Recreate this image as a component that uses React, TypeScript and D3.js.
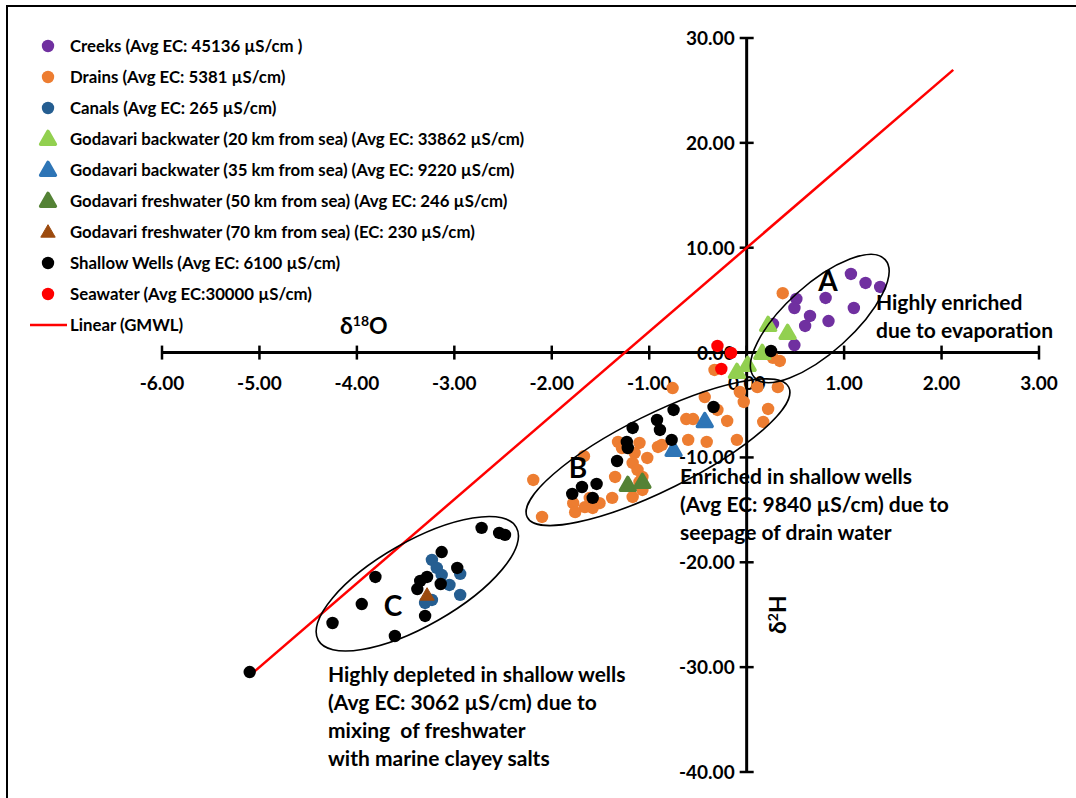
import React from "react";
import { scaleLinear, symbol, symbolTriangle, range } from "d3";

// δ18O, δ2H pairs
const creeks = [
  [1.07, 7.5], [1.22, 6.64], [1.37, 6.26], [0.81, 5.21], [0.51, 5.11], [0.49, 4.25],
  [1.1, 4.25], [0.65, 3.49], [0.6, 2.54], [0.84, 3.01], [0.49, 0.72], [0.27, 2.73],
];
const drains = [
  [-2.19, -12.15], [-2.1, -15.68], [-1.67, -9.88], [-1.78, -14.36], [-1.66, -14.74],
  [-1.76, -15.22], [-1.61, -13.86], [-1.51, -14.36], [-1.38, -13.86], [-1.35, -11.86],
  [-1.32, -8.52], [-1.28, -9.1], [-1.15, -9.57], [-1.1, -8.62], [-1.02, -10.05],
  [-1.17, -10.53], [-1.12, -11.19], [-1.07, -11.86], [-1.17, -13.77], [-1.07, -13.1],
  [-0.91, -9.0], [-0.62, -6.34], [-0.55, -6.34], [-0.6, -8.33], [-0.41, -8.52],
  [-0.43, -4.24], [-0.3, -5.47], [-0.2, -6.52], [-0.1, -8.33], [-0.07, -3.76],
  [-0.03, -4.71], [0.11, -3.3], [0.22, -5.38], [0.17, -6.62], [0.32, -3.3],
  [-0.76, -3.38], [-0.87, -8.81], [-1.58, -14.82], [-1.1, -12.34], [-0.33, -1.66],
  [0.27, -0.51], [0.34, -0.8], [0.37, 5.66],
];
const canals = [
  [-3.23, -19.78], [-3.18, -20.54], [-3.13, -21.21], [-2.94, -21.11], [-3.05, -22.16],
  [-2.94, -23.11], [-3.3, -23.88], [-3.23, -23.59],
];
const backwater20 = [[0.22, 2.63], [0.42, 1.87], [0.16, -0.04], [0.01, -1.18], [-0.1, -1.85]];
const backwater35 = [[-0.43, -6.54], [-0.75, -9.29]];
const fresh50 = [[-1.22, -12.63], [-1.07, -12.34]];
const fresh70 = [[-3.28, -23.12]];
const wells = [
  [-0.34, -5.19], [-0.75, -5.47], [-0.92, -6.43], [-0.89, -7.38], [-1.17, -7.19],
  [-0.77, -8.33], [-1.23, -8.52], [-1.22, -9.1], [-1.33, -10.34], [-1.54, -12.53],
  [-1.69, -12.82], [-1.79, -13.48], [-1.58, -13.86], [0.25, 0.15],
  [-2.72, -16.72], [-2.54, -17.2], [-2.48, -17.39], [-3.13, -19.02], [-2.97, -20.54],
  [-3.81, -21.4], [-3.28, -21.4], [-3.35, -21.78], [-3.38, -22.55], [-3.14, -22.07],
  [-3.95, -23.98], [-3.3, -25.12], [-4.25, -25.79], [-3.61, -27.03], [-5.1, -30.47],
];
const seawater = [[-0.3, 0.63], [-0.16, -0.04], [-0.26, -1.56]];

const gmwlRange = [-5.08, 2.12];
const xTicks = range(-6, 3.01, 1);
const yTicks = range(-40, 30.01, 10);

const series = [
  { name: "Creeks (Avg EC: 45136 µS/cm )", data: creeks, color: "#7030A0", shape: "circle" },
  { name: "Drains (Avg EC: 5381 µS/cm)", data: drains, color: "#ED7D31", shape: "circle" },
  { name: "Canals (Avg EC: 265 µS/cm)", data: canals, color: "#255E91", shape: "circle" },
  { name: "Godavari backwater (20 km from sea) (Avg EC: 33862 µS/cm)", data: backwater20, color: "#92D050", shape: "tri" },
  { name: "Godavari backwater (35 km from sea) (Avg EC: 9220 µS/cm)", data: backwater35, color: "#2E75B6", shape: "tri" },
  { name: "Godavari freshwater (50 km from sea) (Avg EC: 246 µS/cm)", data: fresh50, color: "#548235", shape: "tri" },
  { name: "Godavari freshwater (70 km from sea) (EC: 230 µS/cm)", data: fresh70, color: "#9C4A0E", shape: "small" },
  { name: "Shallow Wells (Avg EC: 6100 µS/cm)", data: wells, color: "#000000", shape: "circle" },
  { name: "Seawater (Avg EC:30000 µS/cm)", data: seawater, color: "#FF0000", shape: "circle" },
];

// ellipse groups: centre in data units, axes in px, angle in degrees
const groups = [
  { label: "A", cx: 0.75, cy: 3.25, rx: 88, ry: 34, angle: -42, lx: 0.834, ly: 6.83 },
  { label: "B", cx: -0.91, cy: -9.5, rx: 146, ry: 38, angle: -26.4, lx: -1.73, ly: -11.0 },
  { label: "C", cx: -3.38, cy: -22.05, rx: 114, ry: 42, angle: -29.7, lx: -3.63, ly: -24.17 },
];

const notes = [
  { x: 876, y: 310, lines: ["Highly enriched", "due to evaporation"] },
  { x: 680, y: 484, lines: ["Enriched in shallow wells", "(Avg EC: 9840 µS/cm) due to", "seepage of drain water"] },
  { x: 328, y: 682, lines: ["Highly depleted in shallow wells", "(Avg EC: 3062 µS/cm) due to", "mixing  of freshwater", "with marine clayey salts"] },
];

const font = "Lato, 'Open Sans', sans-serif";

const App = () => {
  const width = 1076;
  const height = 798;
  const x = scaleLinear().domain([-6, 3]).range([162, 1039]);
  const y = scaleLinear().domain([-40, 30]).range([772, 38]);
  const tri = symbol().type(symbolTriangle).size(95)();
  const triSmall = symbol().type(symbolTriangle).size(90)();

  const marker = (shape: string, color: string, key: any, tx: number, ty: number) => {
    if (shape === "circle") return <circle key={key} cx={tx} cy={ty} r={6.2} fill={color} />;
    if (shape === "small")
      return <path key={key} d={triSmall} transform={`translate(${tx},${ty + 1})`} fill={color} stroke={color} strokeWidth={1} />;
    return (
      <path key={key} d={tri} transform={`translate(${tx},${ty + 1})`} fill={color}
        stroke={color} strokeWidth={3.5} strokeLinejoin="round" />
    );
  };

  return (
    <div style={{ position: "absolute", left: 0, top: 0 }}>
      <svg width={width} height={height} style={{ display: "block", fontFamily: font }}>
        <rect x={0} y={0} width={width} height={height} fill="white" />
        <rect x={7} y={6} width={1100} height={850} fill="none" stroke="black" strokeWidth={2} />

        {/* axes */}
        <line x1={x(-6)} x2={x(3)} y1={y(0)} y2={y(0)} stroke="black" strokeWidth={3} />
        <line x1={x(0)} x2={x(0)} y1={y(30)} y2={y(-40)} stroke="black" strokeWidth={3} />
        {xTicks.map((t) => (
          <g key={"xt" + t}>
            <line x1={x(t)} x2={x(t)} y1={y(0) - 7} y2={y(0) + 7} stroke="black" strokeWidth={2.5} />
            <text x={x(t)} y={y(0) + 37} textAnchor="middle" fontSize={19} fontWeight="bold">
              {t.toFixed(2)}
            </text>
          </g>
        ))}
        {yTicks.map((t) => (
          <g key={"yt" + t}>
            <line x1={x(0) - 7} x2={x(0) + 7} y1={y(t)} y2={y(t)} stroke="black" strokeWidth={2.5} />
            <text x={x(0) - 12} y={y(t) + 7} textAnchor="end" fontSize={19} fontWeight="bold">
              {t.toFixed(2)}
            </text>
          </g>
        ))}
        <text x={340} y={334} fontSize={23} fontWeight="bold">
          δ<tspan fontSize={14} dy={-8}>18</tspan><tspan dy={8}>O</tspan>
        </text>
        <text transform={`translate(786,634) rotate(-90)`} fontSize={23} fontWeight="bold">
          δ<tspan fontSize={14} dy={-8}>2</tspan><tspan dy={8}>H</tspan>
        </text>

        {/* GMWL */}
        <line x1={x(gmwlRange[0])} y1={y(8 * gmwlRange[0] + 10)} x2={x(gmwlRange[1])} y2={y(8 * gmwlRange[1] + 10)}
          stroke="#FF0000" strokeWidth={2.5} />

        {/* points */}
        {series.map((s, i) => (
          <g key={"s" + i}>{s.data.map((d, j) => marker(s.shape, s.color, j, x(d[0]), y(d[1])))}</g>
        ))}

        {/* groups */}
        {groups.map((g) => (
          <g key={g.label}>
            <ellipse cx={x(g.cx)} cy={y(g.cy)} rx={g.rx} ry={g.ry} fill="none" stroke="black" strokeWidth={1.6}
              transform={`rotate(${g.angle},${x(g.cx)},${y(g.cy)})`} />
            <text x={x(g.lx)} y={y(g.ly) + 10} textAnchor="middle" fontSize={28} fontWeight="bold">{g.label}</text>
          </g>
        ))}

        {notes.map((n, i) => (
          <text key={"n" + i} fontSize={21} fontWeight="bold" style={{ whiteSpace: "pre" }}>
            {n.lines.map((l, k) => (
              <tspan key={k} x={n.x} y={n.y + k * 28}>{l}</tspan>
            ))}
          </text>
        ))}

        {/* legend */}
        {series.map((s, i) => (
          <g key={"lg" + i} transform={`translate(0,${46 + i * 31})`}>
            {marker(s.shape, s.color, "m", 48, 0)}
            <text x={70} y={6} fontSize={16.8} fontWeight="bold">{s.name}</text>
          </g>
        ))}
        <g transform={`translate(0,${46 + series.length * 31})`}>
          <line x1={30} x2={67} y1={0} y2={0} stroke="#FF0000" strokeWidth={2.5} />
          <text x={70} y={6} fontSize={16.8} fontWeight="bold">Linear (GMWL)</text>
        </g>
      </svg>
    </div>
  );
};

export default App;
